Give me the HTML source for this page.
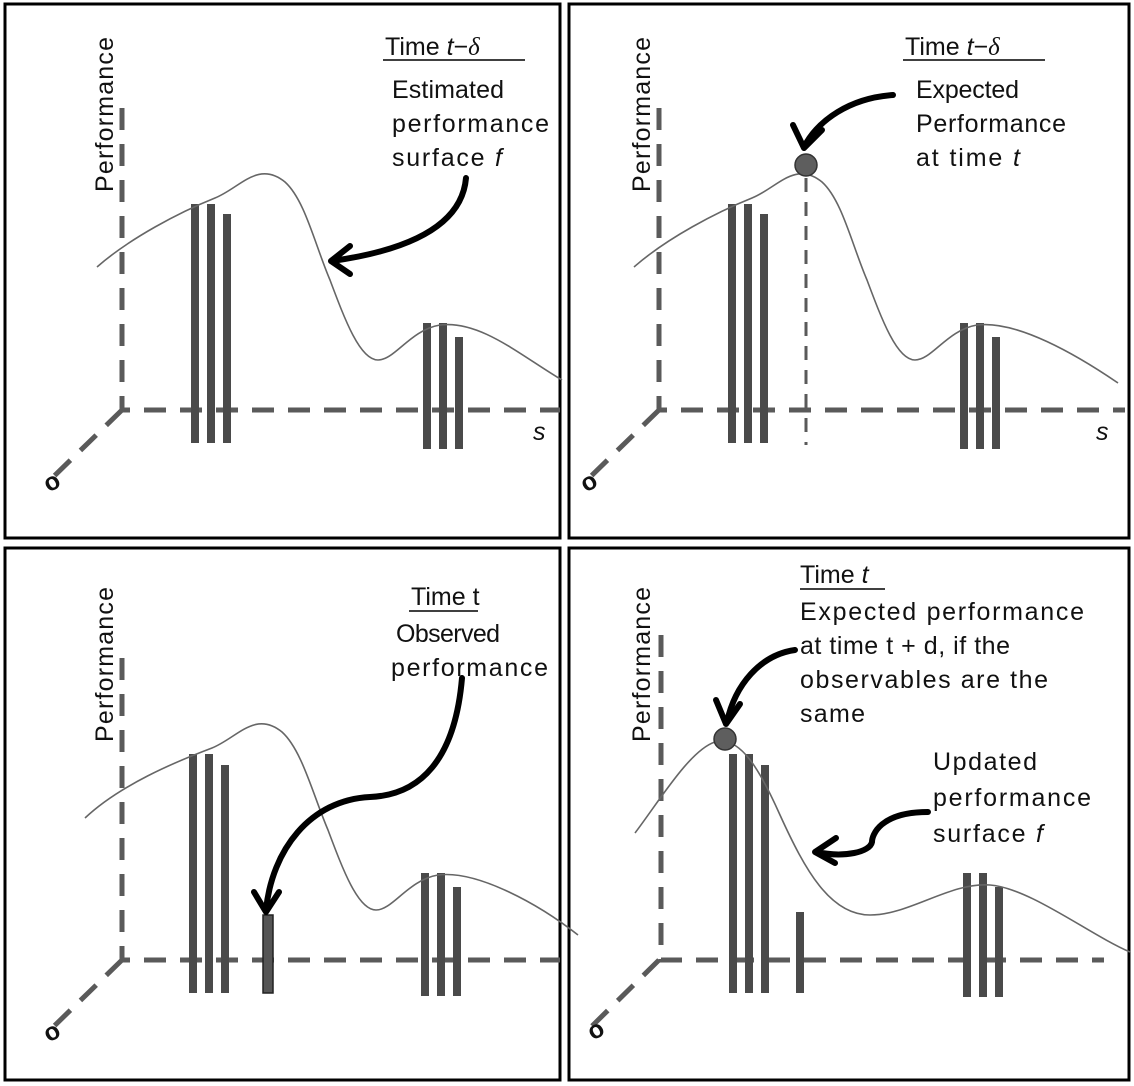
<!DOCTYPE html>
<html><head><meta charset="utf-8"><style>
html,body{margin:0;padding:0;background:#fff;}
svg{display:block;}
text{font-family:"Liberation Sans Narrow","Liberation Sans",sans-serif;font-size:25px;fill:#111;}
.ax{stroke:#5a5a5a;stroke-width:5;stroke-dasharray:22,14;fill:none;}
.bar{fill:#4a4a4a;}
.cv{stroke:#666;stroke-width:1.6;fill:none;}
.ar{stroke:#000;stroke-width:6;fill:none;stroke-linecap:round;stroke-linejoin:round;}
.box{fill:none;stroke:#000;stroke-width:3;}
</style></head><body>
<svg width="1134" height="1086" viewBox="0 0 1134 1086">
<rect x="0" y="0" width="1134" height="1086" fill="#fff"/>
<rect class="box" x="5" y="4" width="555" height="534"/>
<rect class="box" x="569" y="4" width="560" height="534"/>
<rect class="box" x="5" y="548" width="555" height="532"/>
<rect class="box" x="569" y="548" width="560" height="532"/>

<!-- Panel 1 -->
<g>
<path class="ax" d="M122,108 V410 H560"/>
<path class="ax" d="M122,410 L48,482"/>
<text x="44" y="490" font-weight="bold" font-size="24" transform="rotate(-30 52 482)">o</text>
<text x="533" y="440" font-style="italic">s</text>
<text transform="translate(113,192) rotate(-90)" textLength="155">Performance</text>
<rect class="bar" x="191" y="204" width="8" height="239"/>
<rect class="bar" x="207" y="204" width="8" height="239"/>
<rect class="bar" x="223" y="214" width="8" height="229"/>
<rect class="bar" x="423" y="323" width="8" height="126"/>
<rect class="bar" x="439" y="323" width="8" height="126"/>
<rect class="bar" x="455" y="337" width="8" height="112"/>
<path class="cv" d="M97,267 C130,238 180,212 215,198 C240,188 258,160 285,182 C305,200 315,245 330,280 C345,320 360,360 378,360 C395,360 410,330 440,325 C480,320 520,355 562,380"/>
<text x="385" y="55">Time <tspan font-style="italic">t</tspan>−<tspan font-style="italic" font-family="Liberation Serif,serif">δ</tspan></text>
<line x1="383" y1="60" x2="525" y2="60" stroke="#000" stroke-width="1.5"/>
<text x="392" y="98" textLength="112">Estimated</text>
<text x="392" y="132" textLength="157">performance</text>
<text x="392" y="166" textLength="110">surface <tspan font-style="italic">f</tspan></text>
<path class="ar" d="M466,178 C462,225 410,250 332,261"/>
<path class="ar" d="M350,246 L331,261 L350,274"/>
</g>

<!-- Panel 2 -->
<g>
<path class="ax" d="M659,108 V410 H1125"/>
<path class="ax" d="M659,410 L585,482"/>
<text x="581" y="490" font-weight="bold" font-size="24" transform="rotate(-30 589 482)">o</text>
<text x="1096" y="440" font-style="italic">s</text>
<text transform="translate(650,192) rotate(-90)" textLength="155">Performance</text>
<path class="ax" d="M806,178 V445" style="stroke-width:3;stroke-dasharray:14,10"/>
<rect class="bar" x="728" y="204" width="8" height="239"/>
<rect class="bar" x="744" y="204" width="8" height="239"/>
<rect class="bar" x="760" y="214" width="8" height="229"/>
<rect class="bar" x="960" y="323" width="8" height="126"/>
<rect class="bar" x="976" y="323" width="8" height="126"/>
<rect class="bar" x="992" y="337" width="8" height="112"/>
<path class="cv" d="M634,267 C667,238 717,212 752,198 C777,188 795,160 822,182 C842,200 852,245 867,280 C882,320 897,360 915,360 C932,360 947,330 977,325 C1017,320 1077,355 1118,383"/>
<circle cx="806" cy="165" r="11" fill="#5e5e5e" stroke="#333" stroke-width="1.5"/>
<text x="905" y="55">Time <tspan font-style="italic">t</tspan>−<tspan font-style="italic" font-family="Liberation Serif,serif">δ</tspan></text>
<line x1="903" y1="60" x2="1045" y2="60" stroke="#000" stroke-width="1.5"/>
<text x="916" y="98" textLength="103">Expected</text>
<text x="916" y="132" textLength="150">Performance</text>
<text x="916" y="166" textLength="104">at time <tspan font-style="italic">t</tspan></text>
<path class="ar" d="M893,95 C850,98 818,120 804,147"/>
<path class="ar" d="M793,125 L804,148 L822,130"/>
</g>

<!-- Panel 3 -->
<g>
<path class="ax" d="M122,658 V960 H560"/>
<path class="ax" d="M122,960 L48,1032"/>
<text x="44" y="1040" font-weight="bold" font-size="24" transform="rotate(-30 52 1032)">o</text>
<text transform="translate(113,742) rotate(-90)" textLength="155">Performance</text>
<rect class="bar" x="189" y="754" width="8" height="239"/>
<rect class="bar" x="205" y="754" width="8" height="239"/>
<rect class="bar" x="221" y="765" width="8" height="228"/>
<rect x="263" y="915" width="10" height="78" fill="#555" stroke="#222" stroke-width="1.5"/>
<rect class="bar" x="421" y="873" width="8" height="123"/>
<rect class="bar" x="437" y="873" width="8" height="123"/>
<rect class="bar" x="453" y="887" width="8" height="109"/>
<path class="cv" d="M85,818 C120,785 175,762 212,748 C237,738 255,710 282,732 C302,750 313,795 328,830 C343,870 358,910 376,910 C393,910 408,880 438,875 C478,870 540,905 578,935"/>
<text x="411" y="605">Time t</text>
<line x1="409" y1="611" x2="478" y2="611" stroke="#000" stroke-width="1.5"/>
<text x="396" y="642" textLength="104">Observed</text>
<text x="391" y="676" textLength="157">performance</text>
<path class="ar" d="M462,678 C455,760 420,795 370,797 C310,800 272,850 266,910"/>
<path class="ar" d="M254,892 L266,912 L279,892"/>
</g>

<!-- Panel 4 -->
<g>
<path class="ax" d="M661,635 V960 H1104"/>
<path class="ax" d="M659,960 L590,1028"/>
<text x="588" y="1038" font-weight="bold" font-size="24" transform="rotate(-30 596 1030)">o</text>
<text transform="translate(650,742) rotate(-90)" textLength="155">Performance</text>
<rect class="bar" x="729" y="754" width="8" height="239"/>
<rect class="bar" x="745" y="754" width="8" height="239"/>
<rect class="bar" x="761" y="765" width="8" height="228"/>
<rect class="bar" x="796" y="912" width="8" height="81"/>
<rect class="bar" x="963" y="873" width="8" height="124"/>
<rect class="bar" x="979" y="873" width="8" height="124"/>
<rect class="bar" x="995" y="887" width="8" height="110"/>
<path class="cv" d="M635,833 C660,800 690,750 715,742 C740,735 760,770 780,815 C805,870 830,915 870,915 C910,915 950,882 990,885 C1030,888 1090,935 1130,952"/>
<circle cx="725" cy="739" r="11" fill="#5e5e5e" stroke="#333" stroke-width="1.5"/>
<text x="800" y="583">Time <tspan font-style="italic">t</tspan></text>
<line x1="800" y1="589" x2="885" y2="589" stroke="#000" stroke-width="1.5"/>
<text x="800" y="620" textLength="284">Expected performance</text>
<text x="800" y="654" textLength="210">at time  t + d, if the</text>
<text x="800" y="688" textLength="248">observables are the</text>
<text x="800" y="722" textLength="65">same</text>
<text x="933" y="770" textLength="104">Updated</text>
<text x="933" y="806" textLength="158">performance</text>
<text x="933" y="842" textLength="110">surface <tspan font-style="italic">f</tspan></text>
<path class="ar" d="M795,650 C760,655 735,685 727,722"/>
<path class="ar" d="M716,700 L726,724 L740,704"/>
<path class="ar" d="M928,812 C880,812 872,835 872,842 C870,852 845,858 816,852"/>
<path class="ar" d="M836,838 L815,852 L835,863"/>
</g>
</svg>
</body></html>
